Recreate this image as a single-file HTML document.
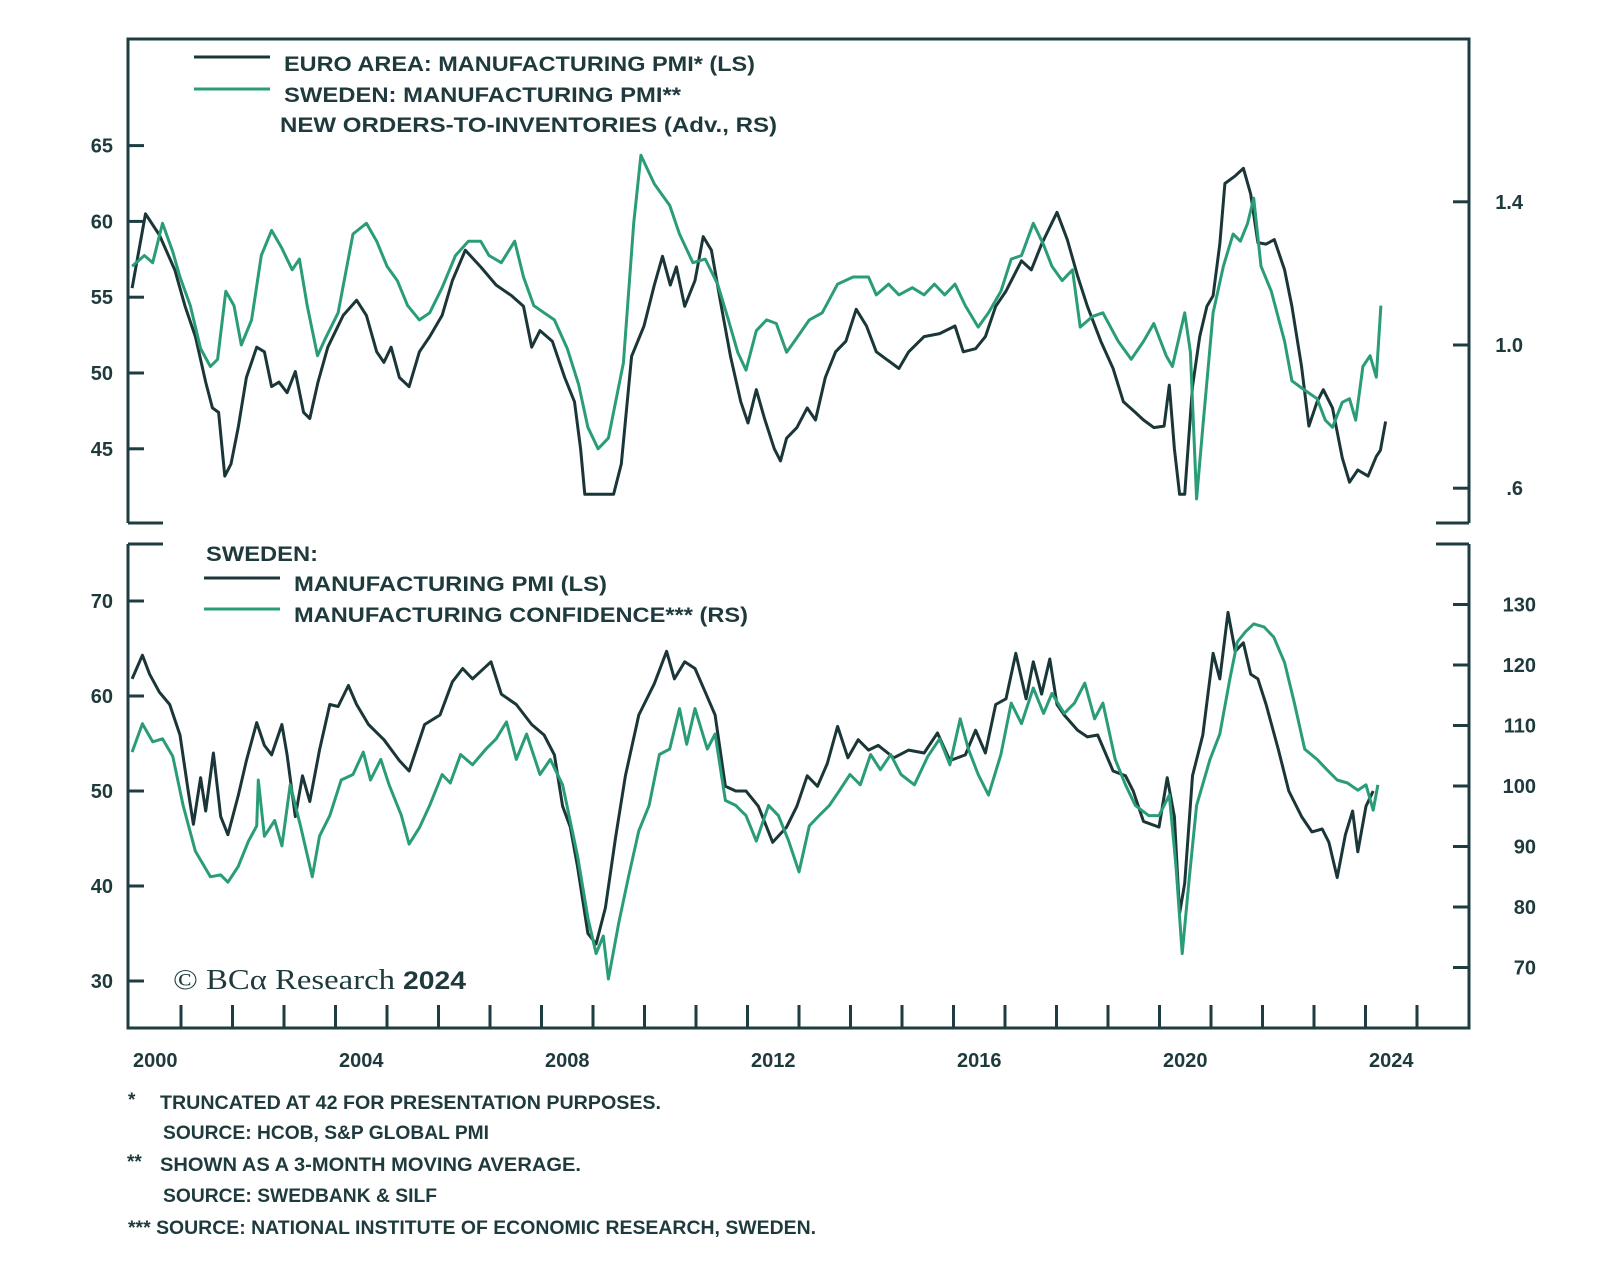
<!DOCTYPE html>
<html>
<head>
<meta charset="utf-8">
<style>
html,body{margin:0;padding:0;background:#fff;}
svg{display:block;}
text{font-family:"Liberation Sans",sans-serif;fill:#1e3a3d;}
</style>
</head>
<body>
<svg id="chart" width="1600" height="1279" viewBox="0 0 1600 1279" xmlns="http://www.w3.org/2000/svg">
  <g id="frame" stroke="#1e3d40" stroke-width="3" fill="none">
    <path d="M128,523 V39 H1469 V523"/>
    <path d="M128,523 H163"/>
    <path d="M1436,523 H1469"/>
    <path d="M128,544 V1028 H1469 V544"/>
    <path d="M128,544 H163"/>
    <path d="M1436,544 H1469"/>
  </g>
  <g id="ticks" stroke="#1e3d40" stroke-width="3"></g>
  <g id="labels" font-size="20" font-weight="bold"></g>
  <g id="series" fill="none" stroke-width="3" stroke-linejoin="round"></g>

  <g font-size="21" font-weight="bold">
    <line x1="194" y1="57" x2="270" y2="57" stroke="#1b3638" stroke-width="3"/>
    <text x="284" y="71" textLength="471" lengthAdjust="spacingAndGlyphs">EURO AREA: MANUFACTURING PMI* (LS)</text>
    <line x1="194" y1="89" x2="270" y2="89" stroke="#2a9d78" stroke-width="3"/>
    <text x="284" y="102" textLength="397" lengthAdjust="spacingAndGlyphs">SWEDEN: MANUFACTURING PMI**</text>
    <text x="280" y="132" textLength="497" lengthAdjust="spacingAndGlyphs">NEW ORDERS-TO-INVENTORIES (Adv., RS)</text>
  </g>
  <g font-size="21" font-weight="bold">
    <text x="206" y="561" textLength="112" lengthAdjust="spacingAndGlyphs">SWEDEN:</text>
    <line x1="204" y1="578" x2="280" y2="578" stroke="#1b3638" stroke-width="3"/>
    <text x="294" y="591" textLength="313" lengthAdjust="spacingAndGlyphs">MANUFACTURING PMI (LS)</text>
    <line x1="204" y1="609" x2="280" y2="609" stroke="#2a9d78" stroke-width="3"/>
    <text x="294" y="622" textLength="454" lengthAdjust="spacingAndGlyphs">MANUFACTURING CONFIDENCE*** (RS)</text>
  </g>

  <g>
    <text x="173" y="989" font-size="29" style="font-family:'Liberation Serif',serif" textLength="222" lengthAdjust="spacingAndGlyphs">© BCα Research</text>
    <text x="403" y="989" font-size="25" font-weight="bold" textLength="63" lengthAdjust="spacingAndGlyphs">2024</text>
  </g>

  <g font-size="19" font-weight="bold" fill="#2a3f42">
    <text x="128" y="1106">*</text>
    <text x="160" y="1109" textLength="501" lengthAdjust="spacingAndGlyphs">TRUNCATED AT 42 FOR PRESENTATION PURPOSES.</text>
    <text x="163" y="1139" textLength="326" lengthAdjust="spacingAndGlyphs">SOURCE: HCOB, S&amp;P GLOBAL PMI</text>
    <text x="127" y="1168">**</text>
    <text x="160" y="1171" textLength="421" lengthAdjust="spacingAndGlyphs">SHOWN AS A 3-MONTH MOVING AVERAGE.</text>
    <text x="163" y="1202" textLength="274" lengthAdjust="spacingAndGlyphs">SOURCE: SWEDBANK &amp; SILF</text>
    <text x="128" y="1234" textLength="688" lengthAdjust="spacingAndGlyphs">*** SOURCE: NATIONAL INSTITUTE OF ECONOMIC RESEARCH, SWEDEN.</text>
  </g>
</svg>
<script>
// ---- data ----
const euroDates = [2000.05,2000.31,2000.58,2000.88,2001.08,2001.28,2001.48,2001.61,2001.73,2001.85,2001.97,2002.11,2002.27,2002.47,2002.62,2002.76,2002.90,2003.06,2003.22,2003.38,2003.50,2003.66,2003.85,2004.15,2004.41,2004.60,2004.80,2004.94,2005.08,2005.24,2005.43,2005.63,2005.83,2006.07,2006.27,2006.52,2006.82,2007.12,2007.42,2007.65,2007.81,2007.97,2008.21,2008.45,2008.64,2008.76,2008.84,2009.40,2009.55,2009.75,2009.99,2010.19,2010.35,2010.50,2010.62,2010.78,2010.98,2011.14,2011.30,2011.47,2011.67,2011.87,2012.01,2012.17,2012.33,2012.52,2012.64,2012.76,2012.96,2013.16,2013.32,2013.51,2013.71,2013.91,2014.11,2014.31,2014.50,2014.70,2014.94,2015.13,2015.43,2015.73,2016.03,2016.19,2016.43,2016.62,2016.82,2017.02,2017.32,2017.51,2017.71,2018.01,2018.21,2018.41,2018.60,2018.86,2019.10,2019.30,2019.53,2019.69,2019.89,2020.09,2020.19,2020.29,2020.39,2020.49,2020.64,2020.78,2020.92,2021.04,2021.17,2021.27,2021.47,2021.63,2021.77,2021.91,2022.07,2022.23,2022.43,2022.57,2022.76,2022.90,2023.06,2023.18,2023.36,2023.55,2023.69,2023.85,2024.05,2024.21,2024.29,2024.39];
const euroPmi = [55.6,60.5,59.1,56.8,54.4,52.4,49.4,47.7,47.4,43.2,44.0,46.4,49.7,51.7,51.4,49.1,49.4,48.7,50.1,47.4,47.0,49.4,51.7,53.8,54.8,53.8,51.4,50.7,51.7,49.7,49.1,51.4,52.4,53.8,56.1,58.1,57.0,55.8,55.1,54.4,51.7,52.8,52.1,49.7,48.1,45.0,42,42,44.0,51.1,53.1,55.8,57.7,55.8,57.0,54.4,56.1,59.0,58.1,54.8,51.1,48.1,46.7,48.9,47.0,45.0,44.2,45.7,46.4,47.7,46.9,49.7,51.4,52.1,54.2,53.1,51.4,50.9,50.3,51.4,52.4,52.6,53.1,51.4,51.6,52.4,54.4,55.4,57.4,56.8,58.5,60.6,58.8,56.4,54.4,52.1,50.3,48.1,47.4,46.9,46.4,46.5,49.2,45.0,42,42,49.1,52.4,54.4,55.1,58.5,62.5,63.0,63.5,61.8,58.6,58.5,58.8,56.8,54.4,50.4,46.5,48.1,48.9,47.7,44.4,42.8,43.6,43.2,44.5,44.9,46.8];

const noiDates = [2000.05,2000.29,2000.45,2000.64,2000.84,2000.98,2001.18,2001.38,2001.57,2001.71,2001.87,2002.03,2002.17,2002.37,2002.56,2002.76,2002.96,2003.16,2003.30,2003.45,2003.65,2003.81,2004.05,2004.34,2004.60,2004.80,2005.00,2005.20,2005.40,2005.63,2005.83,2006.07,2006.33,2006.58,2006.82,2006.98,2007.22,2007.48,2007.65,2007.85,2008.05,2008.25,2008.50,2008.72,2008.90,2009.10,2009.30,2009.59,2009.79,2009.93,2010.19,2010.49,2010.68,2010.94,2011.18,2011.42,2011.63,2011.81,2011.97,2012.17,2012.37,2012.56,2012.76,2012.96,2013.20,2013.45,2013.75,2014.05,2014.35,2014.50,2014.74,2014.94,2015.20,2015.43,2015.63,2015.83,2016.03,2016.23,2016.48,2016.68,2016.92,2017.12,2017.32,2017.55,2017.75,2017.91,2018.11,2018.31,2018.46,2018.70,2018.90,2019.20,2019.45,2019.69,2019.89,2020.13,2020.25,2020.49,2020.60,2020.72,2020.84,2021.04,2021.24,2021.43,2021.57,2021.71,2021.83,2021.97,2022.17,2022.43,2022.57,2022.76,2023.06,2023.22,2023.36,2023.55,2023.69,2023.81,2023.95,2024.09,2024.21,2024.30];
const swedenNoi = [1.22,1.25,1.23,1.34,1.26,1.19,1.11,0.99,0.94,0.96,1.15,1.11,1.00,1.07,1.25,1.32,1.27,1.21,1.24,1.11,0.97,1.02,1.09,1.31,1.34,1.29,1.22,1.18,1.11,1.07,1.09,1.16,1.25,1.29,1.29,1.25,1.23,1.29,1.19,1.11,1.09,1.07,0.99,0.89,0.77,0.71,0.74,0.95,1.34,1.53,1.45,1.39,1.31,1.23,1.24,1.17,1.07,0.98,0.93,1.04,1.07,1.06,0.98,1.02,1.07,1.09,1.17,1.19,1.19,1.14,1.17,1.14,1.16,1.14,1.17,1.14,1.17,1.11,1.05,1.09,1.15,1.24,1.25,1.34,1.28,1.22,1.18,1.21,1.05,1.08,1.09,1.01,0.96,1.01,1.06,0.97,0.94,1.09,0.98,0.57,0.77,1.09,1.22,1.31,1.29,1.34,1.41,1.22,1.15,1.01,0.90,0.88,0.85,0.79,0.77,0.84,0.85,0.79,0.94,0.97,0.91,1.11];

const sePmiDates = [2000.05,2000.25,2000.39,2000.58,2000.78,2000.98,2001.14,2001.24,2001.38,2001.48,2001.63,2001.77,2001.91,2002.11,2002.27,2002.47,2002.62,2002.76,2002.96,2003.06,2003.22,2003.36,2003.50,2003.69,2003.89,2004.05,2004.25,2004.41,2004.64,2004.94,2005.24,2005.43,2005.73,2006.03,2006.27,2006.47,2006.66,2006.82,2007.02,2007.22,2007.51,2007.81,2008.05,2008.25,2008.41,2008.56,2008.70,2008.90,2009.06,2009.24,2009.44,2009.63,2009.89,2010.19,2010.43,2010.58,2010.78,2010.98,2011.18,2011.37,2011.57,2011.77,2011.97,2012.21,2012.49,2012.76,2012.96,2013.16,2013.36,2013.55,2013.75,2013.95,2014.15,2014.35,2014.54,2014.84,2015.13,2015.43,2015.69,2015.93,2016.23,2016.43,2016.62,2016.82,2017.02,2017.21,2017.41,2017.55,2017.71,2017.87,2018.01,2018.15,2018.41,2018.60,2018.80,2019.10,2019.34,2019.49,2019.69,2019.99,2020.15,2020.29,2020.39,2020.49,2020.64,2020.84,2021.04,2021.17,2021.33,2021.47,2021.63,2021.77,2021.91,2022.07,2022.31,2022.51,2022.76,2022.96,2023.16,2023.29,2023.45,2023.61,2023.75,2023.85,2024.01,2024.15];
const swedenPmi = [61.8,64.3,62.3,60.4,59.1,55.9,50.0,46.5,51.4,47.9,54.0,47.3,45.4,49.5,53.2,57.2,54.8,53.8,57.0,53.8,47.3,51.6,48.9,54.3,59.1,58.9,61.1,59.1,57.0,55.4,53.2,52.1,57.0,58.0,61.5,62.9,61.8,62.6,63.6,60.2,59.1,57.0,55.9,53.8,48.4,46.2,42.0,35.0,33.9,37.7,45.2,51.6,58.0,61.3,64.7,61.8,63.6,62.9,60.4,58.0,50.5,50.0,50.0,48.4,44.6,46.2,48.4,51.6,50.5,52.9,56.8,53.5,55.4,54.3,54.8,53.5,54.3,54.0,56.1,53.2,53.8,56.4,54.0,59.1,59.7,64.5,59.7,63.6,60.2,63.9,59.1,58.0,56.4,55.7,55.9,52.1,51.6,50.0,46.8,46.2,51.4,47.3,37.1,40.3,51.6,55.9,64.5,61.8,68.8,64.7,65.6,62.3,61.8,59.1,54.3,50.0,47.3,45.7,46.0,44.6,40.9,45.4,47.9,43.6,48.4,50.0];

const confDates = [2000.05,2000.25,2000.45,2000.64,2000.84,2001.04,2001.28,2001.57,2001.77,2001.91,2002.11,2002.31,2002.47,2002.50,2002.62,2002.82,2002.96,2003.12,2003.32,2003.55,2003.69,2003.89,2004.11,2004.34,2004.54,2004.68,2004.88,2005.04,2005.28,2005.43,2005.63,2005.83,2006.07,2006.23,2006.43,2006.66,2006.92,2007.12,2007.32,2007.51,2007.71,2007.97,2008.17,2008.41,2008.70,2008.90,2009.06,2009.20,2009.30,2009.50,2009.69,2009.89,2010.09,2010.29,2010.49,2010.68,2010.82,2010.98,2011.22,2011.37,2011.57,2011.77,2011.97,2012.17,2012.41,2012.60,2012.80,2013.00,2013.20,2013.39,2013.59,2013.79,2013.99,2014.19,2014.39,2014.58,2014.78,2014.98,2015.24,2015.50,2015.73,2015.93,2016.13,2016.29,2016.48,2016.68,2016.92,2017.12,2017.32,2017.55,2017.75,2017.91,2018.15,2018.35,2018.55,2018.74,2018.90,2019.14,2019.34,2019.53,2019.79,2019.99,2020.19,2020.32,2020.44,2020.58,2020.72,2020.98,2021.17,2021.37,2021.51,2021.67,2021.83,2022.03,2022.22,2022.43,2022.62,2022.82,2023.06,2023.25,2023.45,2023.65,2023.85,2024.01,2024.15,2024.24];
const confidence = [105.6,110.3,107.3,107.8,104.9,96.8,89.2,85.0,85.3,84.1,86.7,90.9,93.4,101.0,91.7,94.3,90.1,100.2,93.4,85.0,91.7,95.1,101.0,101.9,105.6,101.0,104.4,100.2,95.1,90.4,93.1,96.8,101.9,100.5,105.2,103.5,106.1,107.8,110.6,104.4,108.6,101.9,104.4,100.2,88.4,78.2,72.3,75.2,68.1,77.4,85.0,92.6,96.8,105.2,106.1,112.8,106.9,112.8,106.1,108.6,97.6,96.8,95.1,90.9,96.8,95.1,90.9,85.8,93.4,95.1,96.8,99.3,101.9,100.2,105.2,102.7,105.2,101.9,100.2,104.9,107.8,103.5,111.1,106.1,101.9,98.5,105.2,113.7,110.3,116.2,112.0,115.3,112.0,113.7,117.0,111.1,113.7,104.4,100.2,96.8,95.1,95.1,98.5,86.7,72.3,85.0,96.8,104.4,108.6,117.9,123.8,125.5,126.8,126.3,124.6,120.4,113.7,106.1,104.4,102.7,101.0,100.5,99.3,100.2,96.0,100.2];

const yearLabels = ["2000","2004","2008","2012","2016","2020","2024"];
const topLeftTicks = [45,50,55,60,65];
const topRightTicks = [0.6,1.0,1.4];
const topRightTickLabels = [".6","1.0","1.4"];
const botLeftTicks = [30,40,50,60,70];
const botRightTicks = [70,80,90,100,110,120,130];

// ---- scales ----
function xS(t){ return 129.5 + (t-2000)*51.5; }
function yTL(v){ return 373 - (v-50)*15.16; }
function yTR(v){ return 345 - (v-1.0)*358; }
function yBL(v){ return 791 - (v-50)*9.5; }
function yBR(v){ return 786 - (v-100)*6.05; }

const NS = "http://www.w3.org/2000/svg";
const ticksG = document.getElementById('ticks');
const labelsG = document.getElementById('labels');
const seriesG = document.getElementById('series');

function mk(tag, attrs, parent){
  const e = document.createElementNS(NS, tag);
  for (const k in attrs) e.setAttribute(k, attrs[k]);
  parent.appendChild(e);
  return e;
}

// left ticks top
topLeftTicks.forEach(v=>{
  const l = mk('line',{x1:128,x2:144,y1:yTL(v),y2:yTL(v)},ticksG);
  
  
  const t = mk('text',{x:113,y:yTL(v)+7,'text-anchor':'end'},labelsG);
  t.textContent = String(v);
  
  
});
topRightTicks.forEach((v,i)=>{
  const l = mk('line',{x1:1453,x2:1469,y1:yTR(v),y2:yTR(v)},ticksG);
  
  
  const t = mk('text',{x:1523,y:yTR(v)+7,'text-anchor':'end'},labelsG);
  t.textContent = topRightTickLabels[i];
  
  
});
botLeftTicks.forEach(v=>{
  const l = mk('line',{x1:128,x2:144,y1:yBL(v),y2:yBL(v)},ticksG);
  
  
  const t = mk('text',{x:113,y:yBL(v)+7,'text-anchor':'end'},labelsG);
  t.textContent = String(v);
  
  
});
botRightTicks.forEach(v=>{
  const l = mk('line',{x1:1453,x2:1469,y1:yBR(v),y2:yBR(v)},ticksG);
  
  
  const t = mk('text',{x:1536,y:yBR(v)+7,'text-anchor':'end'},labelsG);
  t.textContent = String(v);
  
  
});
// x ticks
for (let yr=2001; yr<=2025; yr++){
  const l = mk('line',{x1:xS(yr),x2:xS(yr),y1:1005,y2:1028},ticksG);
  
  
}
yearLabels.forEach(s=>{
  const t = mk('text',{x:xS(+s+0.5),y:1067,'text-anchor':'middle'},labelsG);
  t.textContent = s;
  
  
});

function line(dates, vals, ys, color, name){
  let d = '';
  dates.forEach((t,i)=>{ d += (i?'L':'M') + xS(t).toFixed(1) + ',' + ys(vals[i]).toFixed(1); });
  const p = mk('path',{d:d,stroke:color},seriesG);
  
  
}
line(euroDates, euroPmi, yTL, '#1b3638', 'euro-area-pmi-line');
line(noiDates, swedenNoi, yTR, '#2a9d78', 'sweden-new-orders-inventories-line');
line(sePmiDates, swedenPmi, yBL, '#1b3638', 'sweden-pmi-line');
line(confDates, confidence, yBR, '#2a9d78', 'sweden-manufacturing-confidence-line');
</script>
</body>
</html>
